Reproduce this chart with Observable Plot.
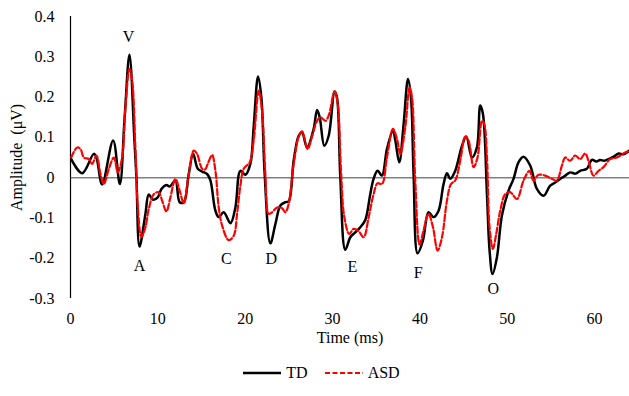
<!DOCTYPE html>
<html>
<head>
<meta charset="utf-8">
<script src="https://cdn.jsdelivr.net/npm/d3@7"></script>
<script src="https://cdn.jsdelivr.net/npm/@observablehq/plot@0.6"></script>
<style>
  body { margin: 0; background: #fff; font-family: "Liberation Serif", "DejaVu Serif", serif; }
  svg text, svg { font-family: "Liberation Serif", "DejaVu Serif", serif !important; }
  #legend { display: flex; justify-content: center; align-items: center; gap: 17px; height: 46px; padding-left: 14px; font-size: 16px; color: #000; font-family: "Liberation Serif", "DejaVu Serif", serif !important; }
  #legend span.item { display: flex; align-items: center; gap: 5px; }
</style>
</head>
<body>
<div id="chart"></div>
<div id="legend"></div>
<script>
// Time (ms) and amplitude (µV) for TD group
const tdTime = [0.08,1.34,2.67,2.97,3.62,4.88,5.65,6.2,6.75,7.32,7.55,7.9,8.58,8.96,9.46,9.99,10.41,10.98,11.36,12.01,12.5,12.97,13.54,14.04,14.57,15.07,15.64,16.02,16.59,16.97,17.54,18.31,18.88,19.45,20.02,20.59,20.97,21.47,21.85,22.23,22.88,23.46,24.03,24.6,24.98,25.55,26.13,26.51,27.08,27.84,28.23,28.53,29.06,29.56,30.24,30.51,30.89,31.46,32.04,32.6,33.18,33.75,34.32,34.7,35.16,35.66,36.23,36.92,37.19,37.64,38.14,38.64,38.98,39.28,39.74,40.35,40.99,41.57,42.14,42.71,43.1,43.48,44.05,44.82,45.31,45.96,46.53,46.91,47.22,47.68,47.98,48.32,48.82,49.39,50.15,50.72,51.29,51.87,52.63,53.4,54.16,54.92,55.5,56.06,56.6,57.2,57.8,58.35,59.11,59.69,60.2,60.64,61.1,61.6,62.2,62.74,63.3,63.96];
const tdAmp = [0.046,0.011,0.059,0.05,-0.017,0.092,-0.016,0.15,0.305,0.092,0.0,-0.171,-0.09,-0.042,-0.055,-0.049,-0.028,-0.018,-0.022,-0.007,-0.061,-0.061,0.009,0.059,0.022,0.015,0.009,-0.007,-0.082,-0.098,-0.086,-0.113,-0.074,0.017,0.007,0.034,0.125,0.251,0.199,0.009,-0.163,-0.115,-0.069,-0.061,-0.059,0.042,0.104,0.112,0.075,0.121,0.168,0.15,0.079,0.104,0.214,0.199,0.001,-0.179,-0.148,-0.136,-0.123,-0.105,-0.041,-0.003,0.017,0.005,0.071,0.117,0.092,0.038,0.133,0.245,0.199,0.009,-0.188,-0.156,-0.086,-0.098,-0.082,-0.016,0.011,-0.003,0.017,0.079,0.102,0.05,0.075,0.179,0.158,-0.041,-0.181,-0.239,-0.198,-0.094,-0.032,-0.003,0.038,0.052,0.03,-0.028,-0.045,-0.02,-0.012,-0.003,0.004,0.013,0.01,0.017,0.022,0.044,0.04,0.044,0.042,0.046,0.052,0.06,0.058,0.067];
// Time (ms) and amplitude (µV) for ASD group
const asdTime = [0.08,0.76,1.14,1.53,2.1,2.48,2.97,3.43,3.81,4.39,4.96,5.42,5.91,6.29,6.75,7.06,7.44,7.71,8.12,8.58,8.96,9.53,10.1,10.49,10.98,11.44,12.01,12.5,12.97,13.54,14.11,14.49,15.07,15.4,15.71,16.21,16.59,16.97,17.36,18.11,18.69,19.07,19.45,19.83,20.52,20.97,21.55,21.93,22.31,22.69,23.07,23.65,24.22,24.6,24.98,25.55,26.13,26.51,27.15,27.65,28.23,28.6,29.18,29.56,30.24,30.58,30.97,31.35,31.92,32.41,32.99,33.56,34.14,34.7,35.16,35.66,36.23,36.92,37.38,37.76,38.33,38.82,39.1,39.47,39.97,40.42,40.99,41.5,42.03,42.53,43.1,43.56,44.05,44.62,45.19,45.57,46.15,46.6,47.11,47.37,47.68,47.98,48.36,48.74,49.2,49.77,50.34,51.11,51.87,52.55,53.01,53.58,54.35,55.11,55.68,56.26,56.64,57.2,57.78,58.35,58.92,59.3,59.88,60.45,61.02,61.78,62.55,63.31,63.96];
const asdAmp = [0.05,0.075,0.071,0.05,0.046,0.034,0.055,0.009,-0.016,0.022,0.05,0.013,0.05,0.174,0.27,0.241,0.067,-0.074,-0.148,-0.123,-0.078,-0.041,-0.036,-0.057,-0.084,-0.049,-0.003,-0.032,-0.064,0.009,0.067,0.059,0.022,0.02,0.034,0.056,0.017,-0.074,-0.119,-0.155,-0.144,-0.09,-0.02,0.022,0.038,0.092,0.216,0.166,0.009,-0.09,-0.086,-0.074,-0.076,-0.086,-0.065,0.034,0.102,0.115,0.071,0.102,0.141,0.15,0.141,0.154,0.214,0.187,0.017,-0.098,-0.14,-0.127,-0.133,-0.148,-0.098,-0.041,-0.014,-0.016,0.05,0.121,0.096,0.059,0.125,0.224,0.199,-0.007,-0.166,-0.131,-0.09,-0.123,-0.181,-0.148,-0.057,-0.016,-0.007,0.042,0.102,0.092,0.026,0.05,0.141,0.133,0.05,-0.123,-0.177,-0.14,-0.082,-0.041,-0.036,-0.053,-0.007,0.017,-0.007,0.007,0.005,-0.003,-0.007,0.03,0.05,0.042,0.055,0.046,0.06,0.042,0.005,0.017,0.026,0.046,0.05,0.06,0.067];
// Peak labels
const peakNames = ["V","A","C","D","E","F","O"];
const peakTime = [6.64,7.9,17.85,22.99,32.27,39.8,48.4];
const peakAmp = [0.35,-0.218,-0.201,-0.201,-0.221,-0.236,-0.275];
const yTicks = [-0.3,-0.2,-0.1,0,0.1,0.2,0.3,0.4];
const xTicks = [0,10,20,30,40,50,60];

const td = tdTime.map((t,i) => ({t, v: tdAmp[i]}));
const asd = asdTime.map((t,i) => ({t, v: asdAmp[i]}));
const peaks = peakNames.map((n,i) => ({n, t: peakTime[i], v: peakAmp[i]}));
const fmt = d => d === 0 ? "0" : d.toFixed(1);
const serif = "Liberation Serif, DejaVu Serif, serif";

const chart = Plot.plot({
  width: 629,
  height: 350,
  marginLeft: 70,
  marginRight: 0,
  marginTop: 16,
  marginBottom: 52,
  style: {fontFamily: serif, fontSize: "16px", color: "#000", background: "#fff"},
  x: {domain: [0, 64]},
  y: {domain: [-0.3, 0.4]},
  marks: [
    Plot.axisX({ticks: xTicks, tickSize: 0, tickPadding: 14, tickFormat: d => String(d), label: "Time (ms)", labelAnchor: "center", labelArrow: false, labelOffset: 44, fontSize: 16, fontFamily: serif}),
    Plot.axisY({ticks: yTicks, tickSize: 0, tickPadding: 16, tickFormat: fmt, label: "Amplitude  (μV)", labelAnchor: "center", labelArrow: false, labelOffset: 60, fontSize: 16, fontFamily: serif}),
    Plot.ruleY([0], {stroke: "#808080", strokeWidth: 1.5}),
    Plot.ruleX([0], {y1: -0.3, y2: 0.4, stroke: "#000", strokeWidth: 1.2}),
    Plot.line(td, {x: "t", y: "v", stroke: "#000", strokeWidth: 2.5, curve: "catmull-rom"}),
    Plot.line(asd, {x: "t", y: "v", stroke: "#ff0000", strokeWidth: 2.2, strokeDasharray: "6,2.5", curve: "catmull-rom"}),
    Plot.text(peaks, {x: "t", y: "v", text: "n", fontSize: 16, fill: "#000", fontFamily: serif})
  ]
});
document.getElementById("chart").appendChild(chart);

const legendItems = [
  {name: "TD", color: "#000", dash: null, w: 2.5},
  {name: "ASD", color: "#ff0000", dash: "5,2.5", w: 2.2}
];
const lg = d3.select("#legend");
legendItems.forEach(it => {
  const s = lg.append("span").attr("class", "item");
  const sv = s.append("svg").attr("width", 38).attr("height", 8);
  sv.append("line").attr("x1", 0).attr("x2", 38).attr("y1", 4).attr("y2", 4)
    .attr("stroke", it.color).attr("stroke-width", it.w).attr("stroke-dasharray", it.dash);
  s.append("span").text(it.name);
});
</script>
</body>
</html>
